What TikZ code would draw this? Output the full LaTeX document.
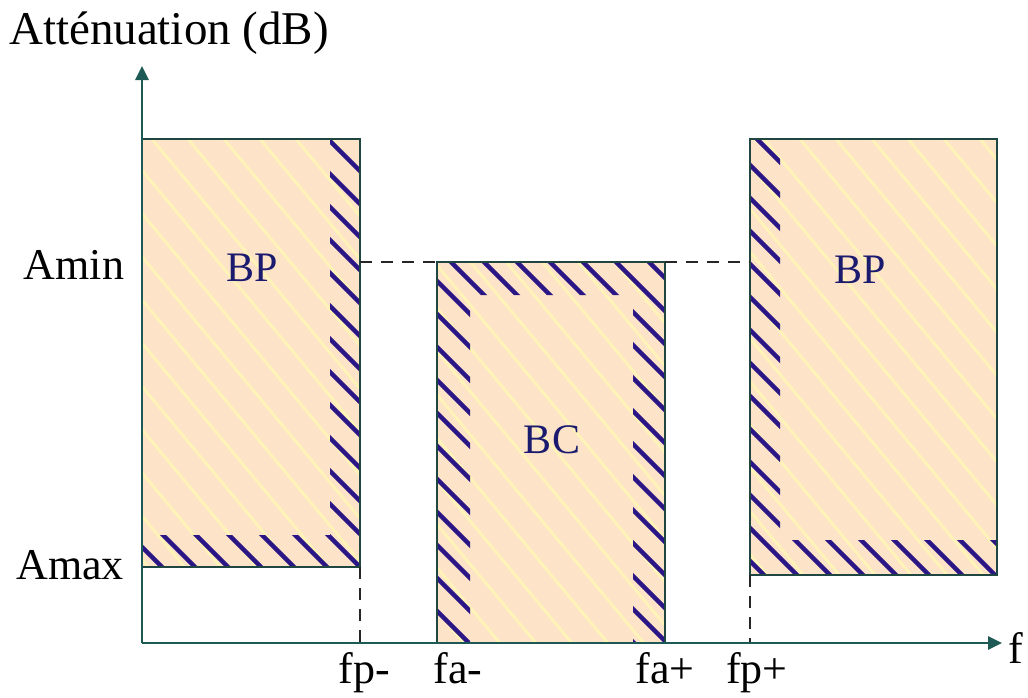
\documentclass[tikz,border=0pt]{standalone}
\usepackage{fontspec}
\setmainfont{Liberation Serif}
\usetikzlibrary{arrows.meta}
\definecolor{peach}{HTML}{FDE3C8}
\definecolor{pale}{HTML}{FFF3B8}
\definecolor{navyh}{HTML}{2A1785}
\definecolor{edge}{HTML}{1F4640}
\definecolor{axisc}{HTML}{1E5A55}
\definecolor{lbl}{HTML}{1A1A6E}
\tikzset{
  box/.style={draw=edge, line width=2.4pt},
  palehatch/.style={draw=pale, line width=2.8pt},
  darkhatch/.style={draw=navyh, line width=4.4pt},
  axisline/.style={draw=axisc, line width=2.6pt, -{Triangle[length=14pt,width=13pt]}},
  guide/.style={draw=black!85, line width=1.8pt, dash pattern=on 12pt off 9pt},
  txt/.style={font=\fontsize{44}{50}\selectfont, text=black, inner sep=0pt},
  ttl/.style={font=\fontsize{47}{52}\selectfont, text=black, inner sep=0pt},
  zone/.style={font=\fontsize{42}{48}\selectfont, text=lbl, inner sep=0pt}
}
\newcommand{\palelines}{\foreach \k in {-900,-864,...,1100} {\draw[palehatch] (\k,0) -- ++(700,840);}}
\newcommand{\darklines}{\foreach \k in {-900,-867,...,1100} {\draw[darkhatch] (\k,0) -- ++(800,800);}}
\begin{document}
\begin{tikzpicture}[x=1pt,y=-1pt]
\useasboundingbox (0,0) rectangle (1028,697);
% box 1
\fill[peach] (142,139) rectangle (360,567);
\begin{scope}\clip (142,139) rectangle (360,567); \palelines \end{scope}
\begin{scope}\clip (330,139) rectangle (360,567) (142,535) rectangle (330,567); \darklines \end{scope}
\draw[box] (142,139) rectangle (360,567);
% box 2
\fill[peach] (437,262) rectangle (665,643);
\begin{scope}\clip (437,262) rectangle (665,643); \palelines \end{scope}
\begin{scope}\clip (437,262) rectangle (665,295) (437,295) rectangle (470,643) (633,295) rectangle (665,643); \darklines \end{scope}
\draw[box] (437,643) -- (437,262) -- (665,262) -- (665,643);
% box 3
\fill[peach] (750,139) rectangle (997,575);
\begin{scope}\clip (750,139) rectangle (997,575); \palelines \end{scope}
\begin{scope}\clip (750,139) rectangle (780,575) (780,540) rectangle (997,575); \darklines \end{scope}
\draw[box] (750,139) rectangle (997,575);
% guides
\coordinate (b1r) at (360,262); \coordinate (b2l) at (437,262);
\coordinate (b2r) at (665,262); \coordinate (b3l) at (750,262);
\coordinate (fpm) at (360,567); \coordinate (fpmb) at (360,643);
\coordinate (fpp) at (750,575); \coordinate (fppb) at (750,643);
\draw[guide] (b1r) -- (b2l);
\draw[guide] (b2r) -- (b3l);
\draw[guide] (fpm) -- (fpmb);
\draw[guide] (fpp) -- (fppb);
% axes
\coordinate (O) at (142,643);
\coordinate (xe) at (1002,643);
\coordinate (ye) at (142,66);
\draw[axisline] (O) -- (xe);
\draw[axisline] (O) -- (ye);
% labels
\node[ttl, anchor=base] (title) at (169,44) {Atténuation (dB)};
\node[txt] (amin) at (74,265) {Amin};
\node[txt] (amax) at (70,565) {Amax};
\node[zone] (bp1) at (252,268) {BP};
\node[zone] (bc) at (552,440) {BC};
\node[zone] (bp2) at (860,270) {BP};
\node[txt, anchor=base] (fpmL) at (364,683) {fp-};
\node[txt, anchor=base] (famL) at (458,683) {fa-};
\node[txt, anchor=base] (fapL) at (665,683) {fa+};
\node[txt, anchor=base] (fppL) at (757,683) {fp+};
\node[txt] (fL) at (1016,648) {f};
\end{tikzpicture}
\end{document}
